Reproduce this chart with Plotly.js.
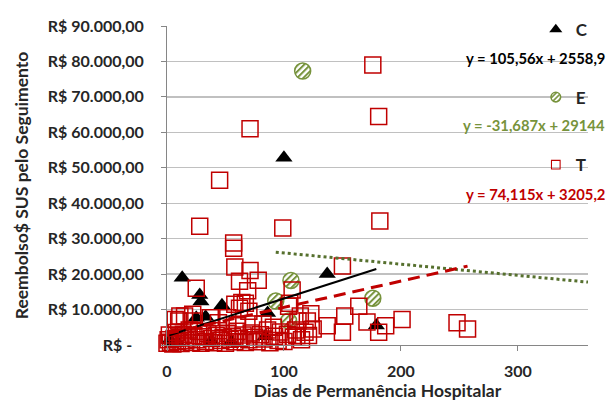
<!DOCTYPE html>
<html>
<head>
<meta charset="utf-8">
<script src="https://cdn.plot.ly/plotly-3.0.1.min.js"></script>
<style>
  html, body { margin: 0; padding: 0; background: #ffffff; }
  #chart { width: 606px; height: 405px; }
</style>
</head>
<body>
<div id="chart"></div>
<script>
// Series C (triangles): days in hospital, SUS reimbursement (R$)
const cDays  = [2, 5, 9, 13, 25, 28, 29, 33, 38, 47, 55, 84, 86, 100, 137, 179];
const cValue = [1300, 400, 800, 19000, 7700, 14100, 12300, 8000, 1200, 11200, 900, 2500, 9000, 52800, 20000, 5500];

// Series E (hatched circles)
const eDays  = [93, 104, 106, 116, 176];
const eValue = [12400, 6800, 18200, 77300, 13200];

// Series T (open squares)
const tDays = [
  176, 181, 71, 45, 28, 99, 182, 57, 57, 58, 150, 71, 78, 62, 69, 25, 107, 105,
  123, 137, 150, 152, 164, 171, 187, 181, 201, 248, 257, 112, 121, 108, 95,
  7, 10, 15, 22, 37, 44, 52, 62, 67, 70, 60, 74, 82, 91, 104, 114, 120, 125, 111,
  58, 64, 11, 22,
  0, 1, 2, 3, 5, 6, 8, 9, 11, 12, 14, 16, 18, 19, 21, 23, 25, 27, 29, 31, 33, 35,
  38, 40, 42, 44, 46, 48, 50, 52, 54, 56, 58, 60, 62, 65, 67, 70, 72, 75, 77, 80,
  83, 86, 88, 92, 97, 100, 103, 110, 115, 118
];
const tValue = [
  79000, 64500, 61000, 46500, 33500, 33000, 35000, 28800, 27300, 22000, 22300, 21000, 18300, 18000, 15300, 16000, 15500, 11800,
  8800, 5400, 3600, 8200, 10900, 6500, 5400, 3600, 7200, 6300, 4500, 6800, 2700, 2200, 1300,
  7200, 6800, 8200, 6800, 7700, 6300, 7700, 10400, 11800, 9500, 5400, 5900, 5900, 5000, 10900, 8200, 6800, 4500, 2700,
  11500, 12000, 8200, 8700,
  500, 1500, 2800, 800, 300, 1800, 3500, 1000, 2200, 400, 3000, 1200, 2000, 4200, 700, 2600, 1500, 3800, 500, 2300, 1000, 3200,
  1800, 600, 2700, 4000, 1300, 2100, 500, 3300, 1600, 2500, 900, 3900, 1900, 2800, 700, 1500, 3400, 2200, 900, 2900,
  1700, 4200, 600, 2500, 3700, 1000, 3000, 4200, 1500, 3600
];

// Linear trend coefficients (slope, intercept) shown in the legend
const cTrend = { slope: 105.56, intercept: 2558.9, label: 'y = 105,56x + 2558,9' };
const eTrend = { slope: -31.687, intercept: 29144, label: 'y = -31,687x + 29144' };
const tTrend = { slope: 74.115, intercept: 3205.2, label: 'y = 74,115x + 3205,2' };

// Axis ticks
const xTicks = [0, 100, 200, 300];
const yTicks = [0, 10000, 20000, 30000, 40000, 50000, 60000, 70000, 80000, 90000];
const yTickText = ['R$ -\u00a0\u00a0\u00a0', 'R$ 10.000,00', 'R$ 20.000,00', 'R$ 30.000,00', 'R$ 40.000,00',
                   'R$ 50.000,00', 'R$ 60.000,00', 'R$ 70.000,00', 'R$ 80.000,00', 'R$ 90.000,00'];
const xMax = 360;

const FONT = 'Lato, "Open Sans", sans-serif';
const INK = '#262626';
const RED = '#C00000';
const OLIVE = '#77933C';

function trendLine(trend, x0, x1) {
  return { x: [x0, x1], y: [trend.slope * x0 + trend.intercept, trend.slope * x1 + trend.intercept] };
}

const cLine = trendLine(cTrend, Math.min(...cDays), Math.max(...cDays));
const eLine = trendLine(eTrend, Math.min(...eDays), xMax);
const tLine = trendLine(tTrend, Math.min(...tDays), Math.max(...tDays));

const traces = [
  {
    name: 'C', legendgroup: 'C', x: cDays, y: cValue, type: 'scatter', mode: 'markers',
    marker: { symbol: 'triangle-up', size: 15, color: '#000000', line: { width: 0 } },
    cliponaxis: false
  },
  {
    name: 'E', legendgroup: 'E', x: eDays, y: eValue, type: 'scatter', mode: 'markers',
    marker: { symbol: 'circle', size: 16, color: '#ffffff', line: { color: OLIVE, width: 1.5 } },
    cliponaxis: false
  },
  {
    name: 'T', legendgroup: 'T', x: tDays, y: tValue, type: 'scatter', mode: 'markers',
    marker: { symbol: 'square-open', size: 16, color: RED, line: { width: 1.5 } },
    cliponaxis: false
  },
  {
    x: cLine.x, y: cLine.y, type: 'scatter', mode: 'lines', showlegend: false, hoverinfo: 'skip',
    line: { color: '#000000', width: 2 }
  },
  {
    x: eLine.x, y: eLine.y, type: 'scatter', mode: 'lines', showlegend: false, hoverinfo: 'skip',
    line: { color: '#56702E', width: 3, dash: 'dot' }
  },
  {
    x: tLine.x, y: tLine.y, type: 'scatter', mode: 'lines', showlegend: false, hoverinfo: 'skip',
    line: { color: RED, width: 3, dash: '12px,7px' }
  }
];

const layout = {
  width: 606, height: 405,
  margin: { l: 167, r: 18, t: 16, b: 60, pad: 0 },
  paper_bgcolor: '#ffffff', plot_bgcolor: '#ffffff',
  font: { family: FONT, size: 16, color: INK, weight: 'bold' },
  showlegend: true,
  legend: {
    x: 0.876, xanchor: 'left', y: 1.044, yanchor: 'top',
    bgcolor: 'rgba(0,0,0,0)', borderwidth: 0,
    font: { family: FONT, size: 17, color: INK, weight: 'bold' },
    tracegroupgap: 42.5, itemsizing: 'constant'
  },
  xaxis: {
    range: [0, xMax], tickvals: xTicks, ticktext: xTicks.map(String),
    showgrid: false, zeroline: false,
    showline: true, linecolor: '#868686', linewidth: 1,
    ticks: 'outside', ticklen: 5, tickcolor: '#868686',
    ticklabelstandoff: 7,
    tickfont: { family: FONT, size: 16, color: INK, weight: 'bold' },
    title: { text: 'Dias de Permanência Hospitalar', standoff: 4,
             font: { family: FONT, size: 17.5, color: INK, weight: 'bold' } }
  },
  yaxis: {
    range: [0, 90000], tickvals: yTicks, ticktext: yTickText,
    showgrid: true, gridcolor: '#C0C0C0', gridwidth: 1.3, zeroline: false,
    showline: true, linecolor: '#868686', linewidth: 1,
    ticks: 'outside', ticklen: 5, tickcolor: '#868686',
    ticklabelstandoff: 14,
    tickfont: { family: FONT, size: 16, color: INK, weight: 'bold' },
    title: { text: 'Reembolso$ SUS pelo Seguimento', standoff: 14,
             font: { family: FONT, size: 17.5, color: INK, weight: 'bold' } }
  },
  annotations: [
    { text: cTrend.label, xref: 'paper', yref: 'paper', x: 1.045, y: 0.9, xanchor: 'right', yanchor: 'middle',
      showarrow: false, font: { family: FONT, size: 14.8, color: '#000000', weight: 'bold' } },
    { text: eTrend.label, xref: 'paper', yref: 'paper', x: 1.045, y: 0.69, xanchor: 'right', yanchor: 'middle',
      showarrow: false, font: { family: FONT, size: 14.8, color: OLIVE, weight: 'bold' } },
    { text: tTrend.label, xref: 'paper', yref: 'paper', x: 1.045, y: 0.474, xanchor: 'right', yanchor: 'middle',
      showarrow: false, font: { family: FONT, size: 14.8, color: RED, weight: 'bold' } }
  ]
};

// Diagonal hatch fill for the E markers (scatter markers have no pattern option),
// and slightly smaller legend symbols
function finishStyling(gd) {
  const svg = gd.querySelector('svg.main-svg');
  const ns = 'http://www.w3.org/2000/svg';
  let defs = svg.querySelector('defs');
  if (!defs) { defs = document.createElementNS(ns, 'defs'); svg.insertBefore(defs, svg.firstChild); }
  const pat = document.createElementNS(ns, 'pattern');
  pat.setAttribute('id', 'hatchE');
  pat.setAttribute('patternUnits', 'userSpaceOnUse');
  pat.setAttribute('width', '4.4');
  pat.setAttribute('height', '4.4');
  pat.setAttribute('patternTransform', 'rotate(45)');
  const bg = document.createElementNS(ns, 'rect');
  bg.setAttribute('width', '4.4'); bg.setAttribute('height', '4.4'); bg.setAttribute('fill', '#ffffff');
  const stripe = document.createElementNS(ns, 'rect');
  stripe.setAttribute('width', '2'); stripe.setAttribute('height', '4.4'); stripe.setAttribute('fill', OLIVE);
  pat.appendChild(bg); pat.appendChild(stripe);
  defs.appendChild(pat);

  const traceGroups = gd.querySelectorAll('.scatterlayer .trace');
  if (traceGroups[1]) traceGroups[1].querySelectorAll('path.point').forEach(p => { p.style.fill = 'url(#hatchE)'; });

  const legendItems = gd.querySelectorAll('.legend .traces');
  const legendScale = [0.95, 0.8, 0.72];
  legendItems.forEach((item, i) => {
    item.querySelectorAll('path.scatterpts').forEach(p => {
      if (i === 1) p.style.fill = 'url(#hatchE)';
      const t = p.getAttribute('transform') || '';
      p.setAttribute('transform', t + ' scale(' + legendScale[i] + ')');
      if (i === 2) p.style.strokeWidth = '1.5px';
    });
  });
}

const gd = document.getElementById('chart');
Plotly.newPlot(gd, traces, layout, { staticPlot: true, displayModeBar: false }).then(finishStyling);
</script>
</body>
</html>
